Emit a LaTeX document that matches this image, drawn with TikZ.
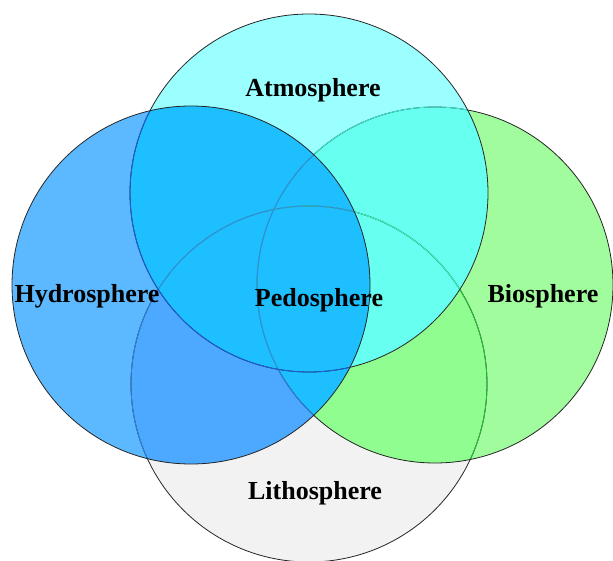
\documentclass[tikz,border=0pt]{standalone}
\usepackage{fontspec}
\setmainfont{Liberation Serif}
\definecolor{Acol}{HTML}{9BFFFF}
\definecolor{Hcol}{HTML}{5CB8FF}
\definecolor{Bcol}{HTML}{A0FC9C}
\definecolor{Lcol}{HTML}{F2F2F2}
\definecolor{HAcol}{HTML}{1EBFFF}
\definecolor{ABcol}{HTML}{66FFF0}
\definecolor{HLcol}{HTML}{4DA9FF}
\definecolor{BLcol}{HTML}{8FFD8F}
\definecolor{inH}{HTML}{1A5FE0}
\definecolor{inHfaint}{HTML}{2E86EC}
\definecolor{inA}{HTML}{3CEFD2}
\definecolor{inB}{HTML}{22C43A}
\tikzset{
  lab/.style={anchor=base, font=\fontsize{26}{30}\selectfont\bfseries, text=black, inner sep=0pt},
  rim/.style={line width=0.8pt}
}
\begin{document}
\begin{tikzpicture}[x=1pt,y=-1pt]
\useasboundingbox (0,0) rectangle (613,561);
% circle centres
\coordinate (cH) at (191,285);
\coordinate (cA) at (309,193);
\coordinate (cB) at (435,285);
\coordinate (cL) at (309,384);
\def\rH{179}\def\rA{179}\def\rB{178}\def\rL{178}
% base fills
\fill[Lcol] (cL) circle[radius=\rL];
\fill[Bcol] (cB) circle[radius=\rB];
\fill[Acol] (cA) circle[radius=\rA];
\fill[Hcol] (cH) circle[radius=\rH];
% overlaps
\begin{scope}\clip (cB) circle[radius=\rB]; \fill[BLcol] (cL) circle[radius=\rL];\end{scope}
\begin{scope}\clip (cA) circle[radius=\rA]; \fill[ABcol] (cB) circle[radius=\rB];\end{scope}
\begin{scope}\clip (cH) circle[radius=\rH]; \fill[HLcol] (cL) circle[radius=\rL];\end{scope}
\begin{scope}\clip (cH) circle[radius=\rH]; \fill[HAcol] (cA) circle[radius=\rA]; \fill[HAcol] (cB) circle[radius=\rB];\end{scope}
% outlines: lithosphere
\draw[rim,black!85] (cL) circle[radius=\rL];
\begin{scope}\clip (cB) circle[radius=\rB]; \draw[rim,inB] (cL) circle[radius=\rL];\end{scope}
\begin{scope}\clip (cA) circle[radius=\rA]; \draw[rim,inA] (cL) circle[radius=\rL];\end{scope}
\begin{scope}\clip (cH) circle[radius=\rH]; \draw[rim,inHfaint] (cL) circle[radius=\rL];\end{scope}
% biosphere
\draw[rim,black!85] (cB) circle[radius=\rB];
\begin{scope}\clip (cA) circle[radius=\rA]; \draw[rim,inA] (cB) circle[radius=\rB];\end{scope}
\begin{scope}\clip (cH) circle[radius=\rH]; \draw[rim,inHfaint] (cB) circle[radius=\rB];\end{scope}
% atmosphere
\draw[rim,black!85] (cA) circle[radius=\rA];
\begin{scope}\clip (cH) circle[radius=\rH]; \draw[rim,inH] (cA) circle[radius=\rA];\end{scope}
% hydrosphere
\draw[rim,black!85] (cH) circle[radius=\rH];
% labels
\node[lab] (atm) at (313,97) {Atmosphere};
\node[lab] (hyd) at (87,303) {Hydrosphere};
\node[lab] (ped) at (319,307) {Pedosphere};
\node[lab] (bio) at (543,303) {Biosphere};
\node[lab] (lit) at (315,499) {Lithosphere};
\end{tikzpicture}
\end{document}
